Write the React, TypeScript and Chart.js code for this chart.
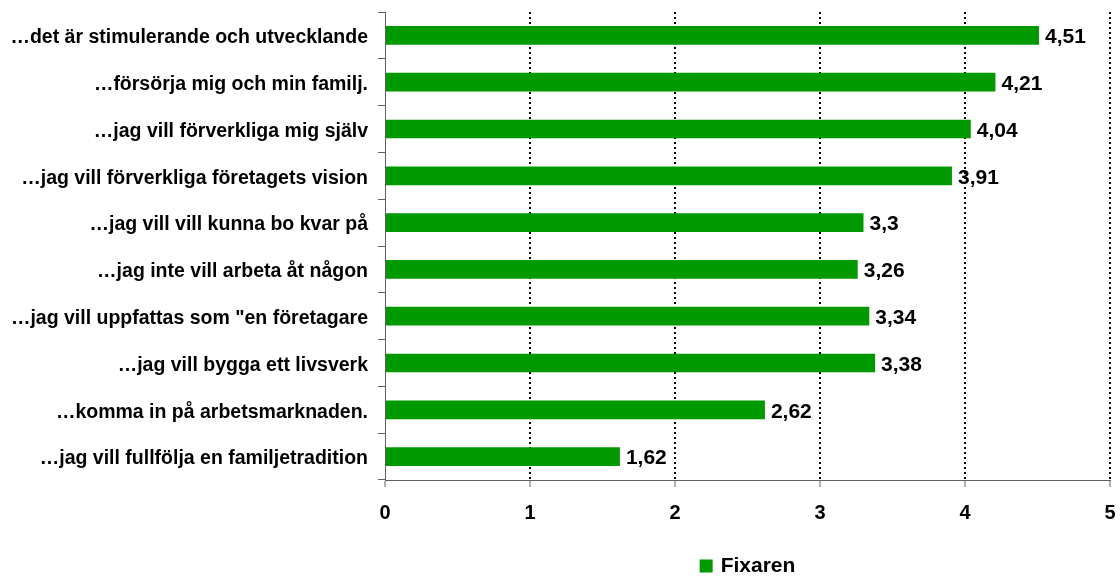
import React, { useEffect, useRef } from "react";
import { Chart, registerables } from "chart.js";

Chart.register(...registerables);

const categories = [
  "…det är stimulerande och utvecklande",
  "…försörja mig och min familj.",
  "…jag vill förverkliga mig själv",
  "…jag vill förverkliga företagets vision",
  "…jag vill vill kunna bo kvar på",
  "…jag inte vill arbeta åt någon",
  "…jag vill uppfattas som \"en företagare",
  "…jag vill bygga ett livsverk",
  "…komma in på arbetsmarknaden.",
  "…jag vill fullfölja en familjetradition",
];
const fixarenValues = [4.51, 4.21, 4.04, 3.91, 3.3, 3.26, 3.34, 3.38, 2.62, 1.62];
const seriesName = "Fixaren";
const xTicks = [0, 1, 2, 3, 4, 5];

const FONT = "'Liberation Sans', Arial, Helvetica, sans-serif";
const GREEN = "#009900";
const AXIS = "#606060";

const valueLabels = {
  id: "valueLabels",
  afterDatasetsDraw(chart: any) {
    const ctx = chart.ctx;
    const meta = chart.getDatasetMeta(0);
    const data = chart.data.datasets[0].data as number[];
    ctx.save();
    ctx.font = `bold 21px ${FONT}`;
    ctx.fillStyle = "#000";
    ctx.textAlign = "left";
    ctx.textBaseline = "middle";
    meta.data.forEach((bar: any, i: number) => {
      const txt = String(data[i]).replace(".", ",");
      ctx.fillText(txt, bar.x + 6, bar.y + 2);
    });
    ctx.restore();
  },
};

const customLegend = {
  id: "customLegend",
  afterDraw(chart: any) {
    const ctx = chart.ctx;
    const ds = chart.data.datasets[0];
    const { left, right } = chart.chartArea;
    ctx.save();
    ctx.font = `bold 21px ${FONT}`;
    const label = ds.label as string;
    const tw = ctx.measureText(label).width;
    const box = 13;
    const gap = 8;
    const total = box + gap + tw;
    const x0 = (left + right) / 2 - total / 2;
    const cy = 566;
    ctx.fillStyle = ds.backgroundColor;
    ctx.fillRect(x0, cy - box / 2, box, box);
    ctx.fillStyle = "#000";
    ctx.textAlign = "left";
    ctx.textBaseline = "middle";
    ctx.fillText(label, x0 + box + gap, cy);
    ctx.restore();
  },
};

const zeroPad = (scale: any) => {
  scale.paddingLeft = 0;
  scale.paddingRight = 0;
  scale.paddingTop = 0;
  scale.paddingBottom = 0;
};

export default function App() {
  const ref = useRef<HTMLCanvasElement | null>(null);
  useEffect(() => {
    if (!ref.current) return;
    const chart = new Chart(ref.current, {
      type: "bar",
      data: {
        labels: categories,
        datasets: [
          {
            label: seriesName,
            data: fixarenValues,
            backgroundColor: GREEN,
            borderWidth: 0,
            categoryPercentage: 1,
            barPercentage: 0.4,
          },
        ],
      },
      options: {
        indexAxis: "y",
        animation: false,
        responsive: true,
        maintainAspectRatio: false,
        layout: { padding: { top: 12, right: 10, left: 0, bottom: 0 } },
        plugins: {
          tooltip: { enabled: false },
          legend: { display: false },
        },
        scales: {
          x: {
            type: "linear",
            min: 0,
            max: 5,
            afterBuildTicks: (scale: any) => {
              scale.ticks = xTicks.map((v) => ({ value: v }));
            },
            afterFit: (scale: any) => {
              scale.height = 99;
              zeroPad(scale);
            },
            ticks: {
              color: "#000",
              padding: 14,
              font: { family: FONT, size: 20, weight: "bold" },
            },
            grid: {
              display: true,
              drawOnChartArea: true,
              color: (c: any) => (c.tick && c.tick.value === 0 ? "rgba(0,0,0,0)" : "#000"),
              lineWidth: 2,
              tickColor: AXIS,
              tickLength: 7,
              tickWidth: 1,
              tickBorderDash: [],
            },
            border: { display: true, color: AXIS, width: 1, dash: [2, 3] },
          },
          y: {
            afterFit: (scale: any) => {
              scale.width = 385;
              zeroPad(scale);
            },
            ticks: {
              color: "#000",
              padding: 10,
              labelOffset: 2.5,
              crossAlign: "near",
              font: { family: FONT, size: 19.5, weight: "bold" },
            },
            grid: {
              display: true,
              offset: true,
              drawOnChartArea: false,
              tickColor: AXIS,
              tickLength: 7,
              tickWidth: 1,
            },
            border: { display: true, color: AXIS, width: 1 },
          },
        },
      } as any,
      plugins: [valueLabels, customLegend],
    });
    return () => chart.destroy();
  }, []);
  return (
    <div style={{ position: "absolute", left: 0, top: 0, width: 1120, height: 579, background: "#fff" }}>
      <canvas ref={ref} />
    </div>
  );
}
